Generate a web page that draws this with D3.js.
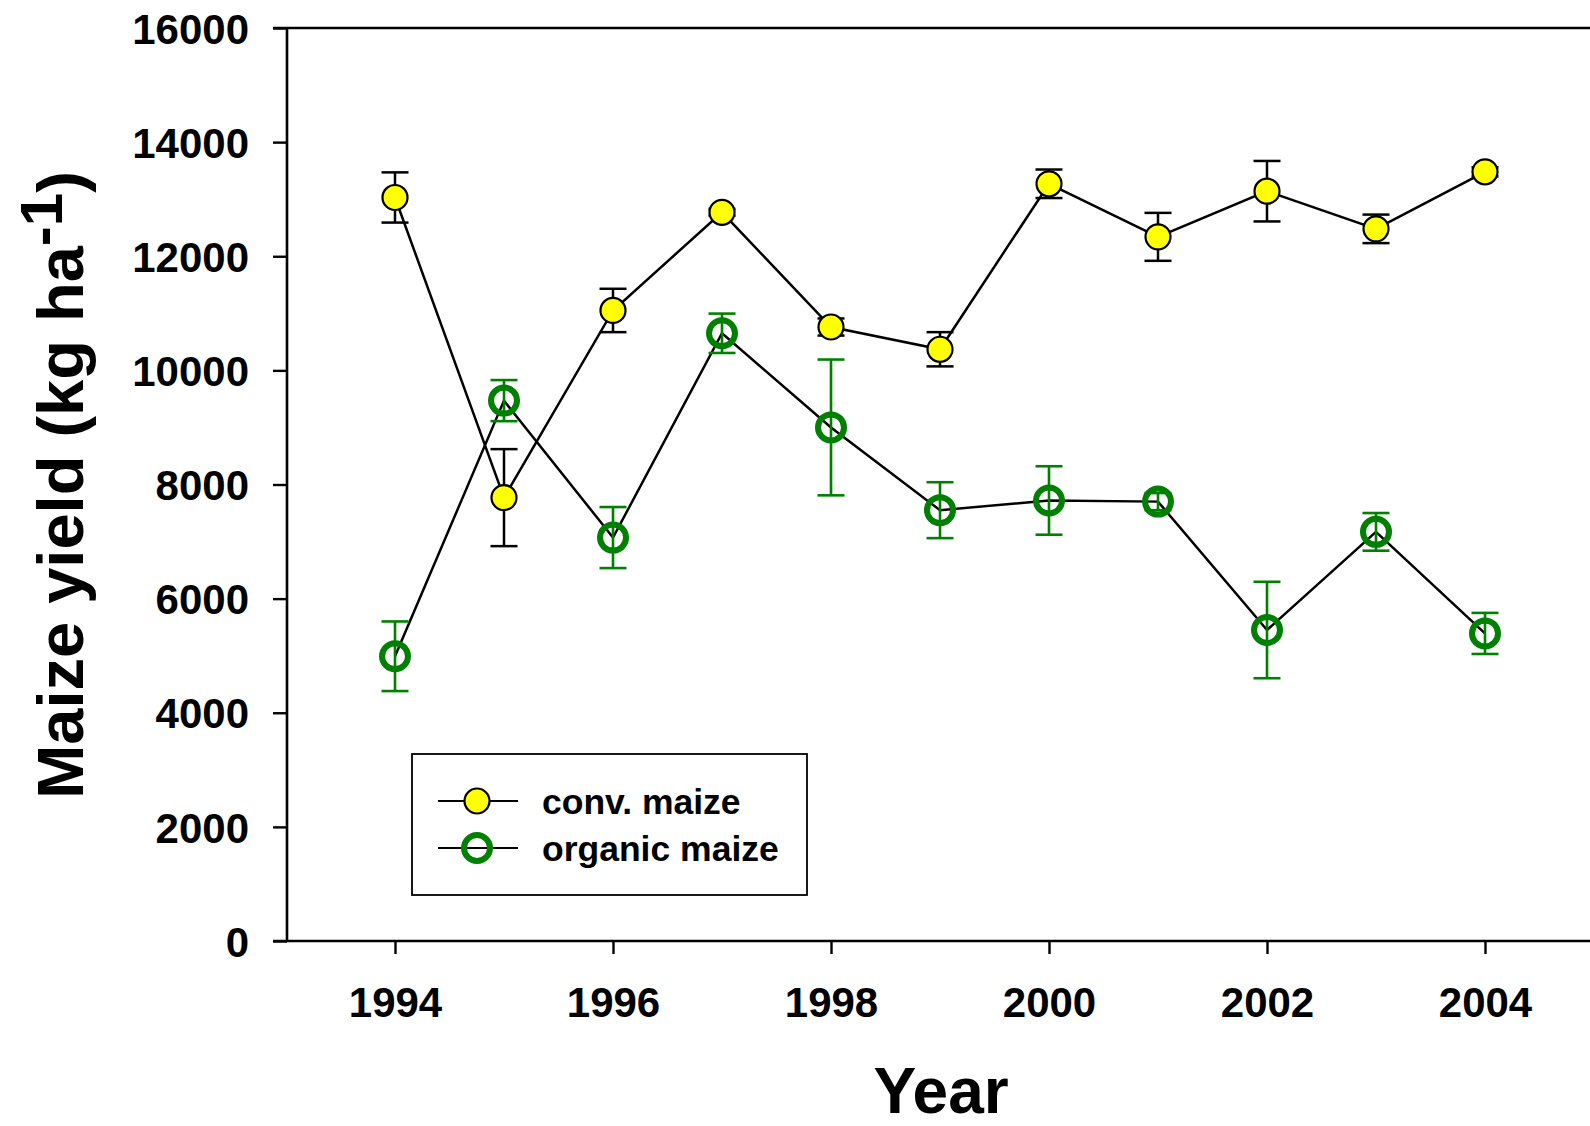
<!DOCTYPE html>
<html lang="en">
<head>
<meta charset="UTF-8">
<script src="https://d3js.org/d3.v7.min.js"></script>
<style>
  body { margin: 0; background: #fff; }
  text { font-family: "Liberation Sans", Arial, sans-serif; font-weight: bold; fill: #000; }
</style>
</head>
<body>
<svg width="1590" height="1126"></svg>
<script>
// data
var years = [1994, 1995, 1996, 1997, 1998, 1999, 2000, 2001, 2002, 2003, 2004];
var convMean = [13030, 7770, 11050, 12770, 10760, 10370, 13270, 12340, 13140, 12480, 13480];
var convErr = [440, 850, 380, 60, 150, 300, 250, 420, 530, 250, 80];
var orgMean = [4990, 9470, 7070, 10650, 9000, 7550, 7720, 7700, 5450, 7170, 5390];
var orgErr = [610, 360, 535, 345, 1190, 490, 600, 150, 845, 330, 360];
var yTicks = [0, 2000, 4000, 6000, 8000, 10000, 12000, 14000, 16000];
var xTicks = [1994, 1996, 1998, 2000, 2002, 2004];
var seriesNames = ["conv. maize", "organic maize"];

function main() {
  var svg = d3.select("svg");

  var x = d3.scaleLinear().domain([1993, 2005]).range([286, 1594]);
  var y = d3.scaleLinear().domain([0, 16000]).range([941, 28]);

  // axes
  var yAxis = d3.axisLeft(y).tickValues(yTicks).tickFormat(d3.format("d"))
    .tickSize(14).tickSizeOuter(0).tickPadding(24);
  var gy = svg.append("g").attr("transform", "translate(287,0)").call(yAxis);
  gy.select(".domain").remove();
  gy.selectAll(".tick line").attr("stroke", "#000").attr("stroke-width", 2.4);
  gy.selectAll(".tick text").style("font-size", "42px").attr("dy", "0.36em");

  var xAxis = d3.axisBottom(x).tickValues(xTicks).tickFormat(d3.format("d"))
    .tickSize(13).tickSizeOuter(0).tickPadding(33);
  var gx = svg.append("g").attr("transform", "translate(0,941)").call(xAxis);
  gx.select(".domain").remove();
  gx.selectAll(".tick line").attr("stroke", "#000").attr("stroke-width", 2.4);
  gx.selectAll(".tick text").style("font-size", "42px").attr("dy", "0.71em");

  // frame: left, top, bottom
  svg.append("line").attr("x1", 287).attr("x2", 287).attr("y1", 28).attr("y2", 942)
    .attr("stroke", "#000").attr("stroke-width", 2.6);
  svg.append("line").attr("x1", 273).attr("x2", 1590).attr("y1", 28).attr("y2", 28)
    .attr("stroke", "#000").attr("stroke-width", 2.6);
  svg.append("line").attr("x1", 273).attr("x2", 1590).attr("y1", 941).attr("y2", 941)
    .attr("stroke", "#000").attr("stroke-width", 2.6);

  var line = d3.line().x(function(d) { return x(d[0]); }).y(function(d) { return y(d[1]); });

  var conv = years.map(function(yr, i) { return [yr, convMean[i], convErr[i]]; });
  var org = years.map(function(yr, i) { return [yr, orgMean[i], orgErr[i]]; });

  // error bars
  function errBars(data, colour, w) {
    var g = svg.append("g").attr("stroke", colour).attr("stroke-width", w);
    data.forEach(function(d) {
      var cx = x(d[0]);
      g.append("line").attr("x1", cx).attr("x2", cx).attr("y1", y(d[1] - d[2])).attr("y2", y(d[1] + d[2]));
      g.append("line").attr("x1", cx - 13.5).attr("x2", cx + 13.5).attr("y1", y(d[1] + d[2])).attr("y2", y(d[1] + d[2]));
      g.append("line").attr("x1", cx - 13.5).attr("x2", cx + 13.5).attr("y1", y(d[1] - d[2])).attr("y2", y(d[1] - d[2]));
    });
  }

  // lines
  svg.append("path").datum(org).attr("d", line).attr("fill", "none").attr("stroke", "#000").attr("stroke-width", 2.5);
  svg.append("path").datum(conv).attr("d", line).attr("fill", "none").attr("stroke", "#000").attr("stroke-width", 2.5);

  errBars(conv, "#000", 2.5);
  errBars(org, "#008000", 2.6);

  // markers
  svg.append("g").selectAll("circle").data(org).enter().append("circle")
    .attr("cx", function(d) { return x(d[0]); })
    .attr("cy", function(d) { return y(d[1]); })
    .attr("r", 13).attr("fill", "none").attr("stroke", "#008000").attr("stroke-width", 6);
  svg.append("g").selectAll("circle").data(conv).enter().append("circle")
    .attr("cx", function(d) { return x(d[0]); })
    .attr("cy", function(d) { return y(d[1]); })
    .attr("r", 12.5).attr("fill", "#ffff00").attr("stroke", "#000").attr("stroke-width", 2.2);

  // legend
  var lg = svg.append("g");
  lg.append("rect").attr("x", 412).attr("y", 754).attr("width", 395).attr("height", 141)
    .attr("fill", "#fff").attr("stroke", "#000").attr("stroke-width", 1.8);
  var rows = [{ y: 801, name: seriesNames[0] }, { y: 848, name: seriesNames[1] }];
  rows.forEach(function(r, i) {
    lg.append("line").attr("x1", 438).attr("x2", 518).attr("y1", r.y).attr("y2", r.y)
      .attr("stroke", "#000").attr("stroke-width", 2.2);
    if (i === 0) {
      lg.append("circle").attr("cx", 477).attr("cy", r.y).attr("r", 12.5)
        .attr("fill", "#ffff00").attr("stroke", "#000").attr("stroke-width", 2.2);
    } else {
      lg.append("circle").attr("cx", 477).attr("cy", r.y).attr("r", 13)
        .attr("fill", "none").attr("stroke", "#008000").attr("stroke-width", 6);
    }
    lg.append("text").attr("x", 542).attr("y", r.y + 12.5).style("font-size", "35.5px").text(r.name);
  });

  // axis titles
  svg.append("text").attr("x", 941).attr("y", 1113).attr("text-anchor", "middle")
    .style("font-size", "64px").text("Year");

  var yl = svg.append("text").attr("transform", "translate(83,485) rotate(-90)")
    .attr("text-anchor", "middle").style("font-size", "65px");
  yl.append("tspan").text("Maize yield (kg ha");
  yl.append("tspan").attr("dy", -21).style("font-size", "60px").text("-1");
  yl.append("tspan").attr("dy", 21).text(")");
}
main();
</script>
</body>
</html>
